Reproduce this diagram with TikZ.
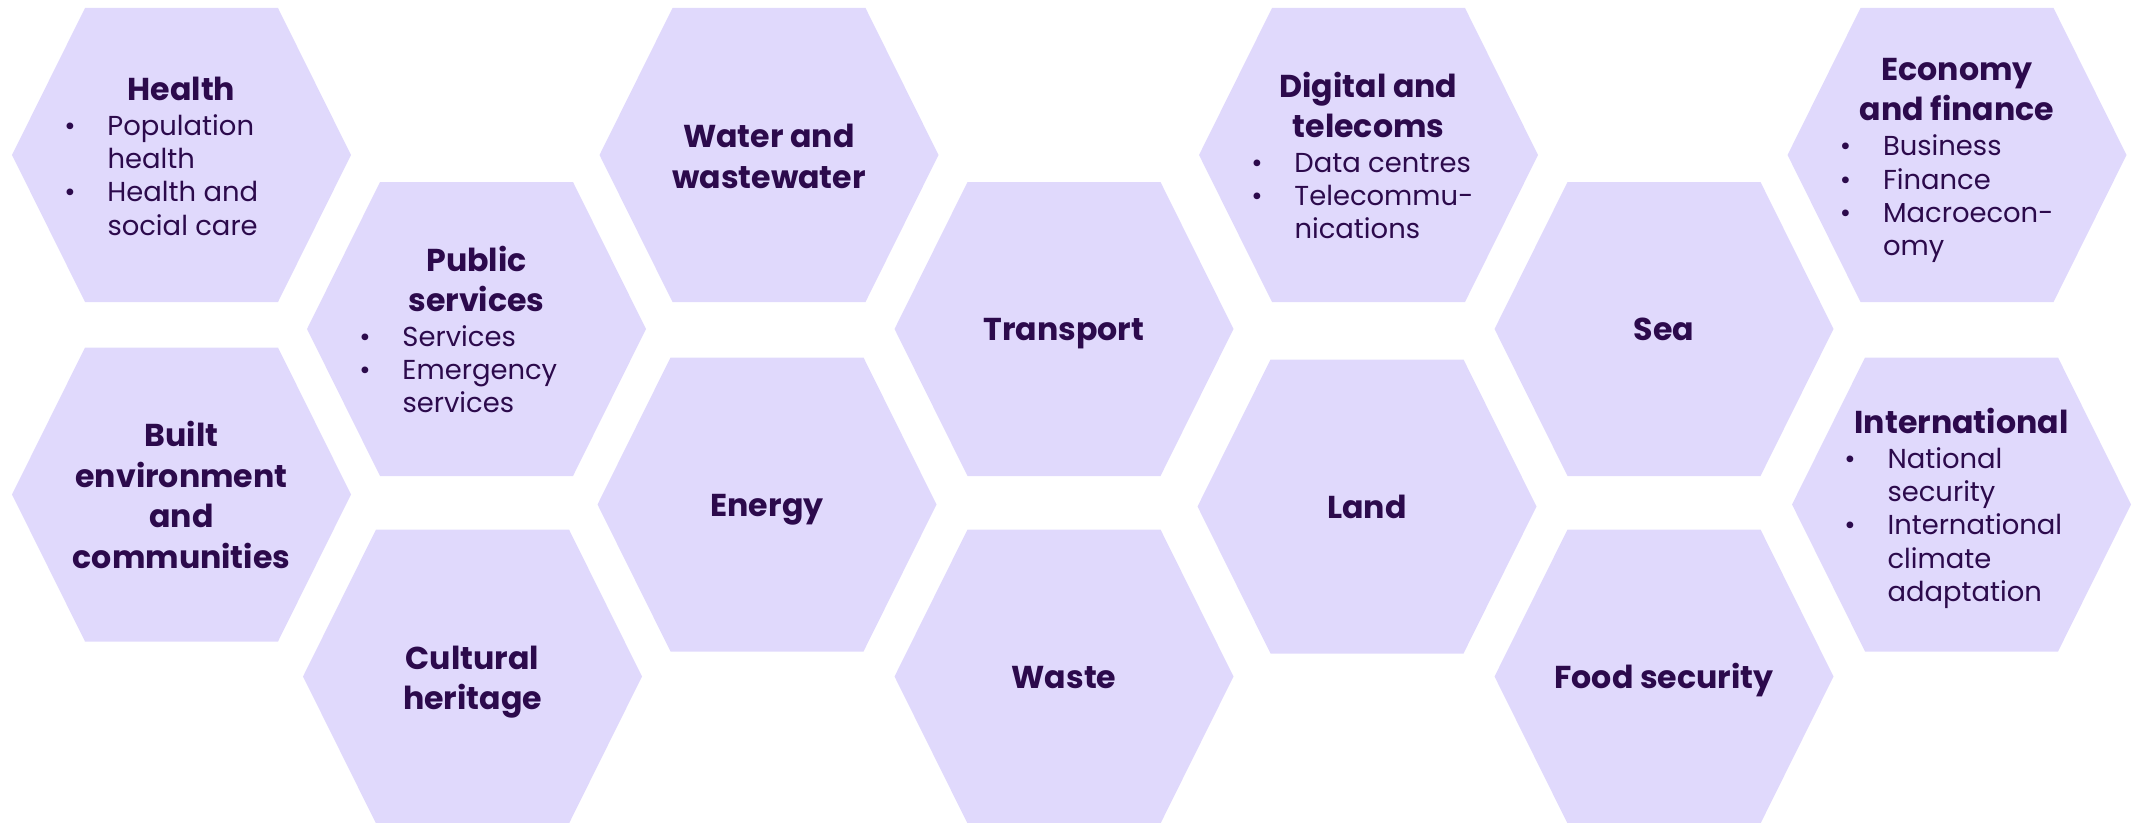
\documentclass[tikz,border=0pt]{standalone}
\usepackage{fontspec}
\setmainfont{Poppins}
\usetikzlibrary{positioning}

\definecolor{hexfill}{RGB}{224,217,252}
\definecolor{hexink}{RGB}{44,10,76}

\tikzset{
    topic/.style={inner sep=0pt, anchor=base, text=hexink,
                  font=\bfseries\fontsize{9}{11.52}\selectfont},
    items/.style={inner sep=0pt, text=hexink,
                  font=\fontsize{7.8}{9.45}\selectfont},
}

% one hexagon cell around a centre
\newcommand{\hexcell}[1]{\fill[hexfill] (#1) +(-1.695,0) -- +(-0.965,1.47) -- +(0.965,1.47)
    -- +(1.695,0) -- +(0.965,-1.47) -- +(-0.965,-1.47) -- cycle;}
% bullet lines and their follow-on lines
\newcommand{\hexitem}[1]{\makebox[4.1mm][l]{\makebox[0.7mm]{\textbullet}}#1}
\newcommand{\hexmore}[1]{\hspace*{4.1mm}#1}
\newcommand{\topicbox}[1]{\parbox[t]{34mm}{\centering #1}}
\newcommand{\itembox}[1]{\parbox[t]{23mm}{\raggedright #1}}

\begin{document}
\begin{tikzpicture}
    \useasboundingbox (0,0) rectangle (21.34,8.22);

    % Centres of the cells
    \coordinate (health-hex)        at (1.815, 6.67);
    \coordinate (built-hex)         at (1.815, 3.275);
    \coordinate (publicserv-hex)    at (4.765, 4.93);
    \coordinate (cultural-hex)      at (4.725, 1.455);
    \coordinate (water-hex)         at (7.69, 6.67);
    \coordinate (energy-hex)        at (7.67, 3.175);
    \coordinate (transport-hex)     at (10.64, 4.93);
    \coordinate (waste-hex)         at (10.64, 1.455);
    \coordinate (digital-hex)       at (13.685, 6.67);
    \coordinate (land-hex)          at (13.67, 3.155);
    \coordinate (sea-hex)           at (16.64, 4.93);
    \coordinate (food-hex)          at (16.64, 1.455);
    \coordinate (economy-hex)       at (19.57, 6.67);
    \coordinate (international-hex) at (19.615, 3.175);

    % Draw the cells
    \hexcell{health-hex}
    \hexcell{built-hex}
    \hexcell{publicserv-hex}
    \hexcell{cultural-hex}
    \hexcell{water-hex}
    \hexcell{energy-hex}
    \hexcell{transport-hex}
    \hexcell{waste-hex}
    \hexcell{digital-hex}
    \hexcell{land-hex}
    \hexcell{sea-hex}
    \hexcell{food-hex}
    \hexcell{economy-hex}
    \hexcell{international-hex}

    % Titles
    \node[topic] (health)        at (1.815, 7.215)  {\topicbox{Health}};
    \node[topic] (built)         at (1.815, 3.7525) {\topicbox{Built\\environment\\and\\communities}};
    \node[topic] (publicserv)    at (4.765, 5.51)   {\topicbox{Public\\services}};
    \node[topic] (cultural)      at (4.725, 1.5275) {\topicbox{Cultural\\heritage}};
    \node[topic] (water)         at (7.69, 6.7425)  {\topicbox{Water and\\wastewater}};
    \node[topic] (energy)        at (7.67, 3.06)    {\topicbox{Energy}};
    \node[topic] (transport)     at (10.64, 4.815)  {\topicbox{Transport}};
    \node[topic] (waste)         at (10.64, 1.34)   {\topicbox{Waste}};
    \node[topic] (digital)       at (13.685, 7.25)  {\topicbox{Digital and\\telecoms}};
    \node[topic] (land)          at (13.67, 3.04)   {\topicbox{Land}};
    \node[topic] (sea)           at (16.64, 4.815)  {\topicbox{Sea}};
    \node[topic] (food)          at (16.64, 1.34)   {\topicbox{Food security}};
    \node[topic] (economy)       at (19.57, 7.417)  {\topicbox{Economy\\and finance}};
    \node[topic] (international) at (19.615, 3.886) {\topicbox{International}};

    % Bullet lists under the titles
    \node[items, below=0.35cm of health.base, anchor=base] (health-items)
        {\itembox{\hexitem{Population}\\\hexmore{health}\\\hexitem{Health and}\\\hexmore{social care}}};
    \node[items, below=0.755cm of publicserv.base, anchor=base] (publicserv-items)
        {\itembox{\hexitem{Services}\\\hexitem{Emergency}\\\hexmore{services}}};
    \node[items, below=0.755cm of digital.base, anchor=base] (digital-items)
        {\itembox{\hexitem{Data centres}\\\hexitem{Telecommu-}\\\hexmore{nications}}};
    \node[items, below=0.755cm of economy.base, anchor=base] (economy-items)
        {\itembox{\hexitem{Business}\\\hexitem{Finance}\\\hexitem{Macroecon-}\\\hexmore{omy}}};
    \node[items, below=0.35cm of international.base, anchor=base] (international-items)
        {\itembox{\hexitem{National}\\\hexmore{security}\\\hexitem{International}\\\hexmore{climate}\\\hexmore{adaptation}}};
\end{tikzpicture}
\end{document}
